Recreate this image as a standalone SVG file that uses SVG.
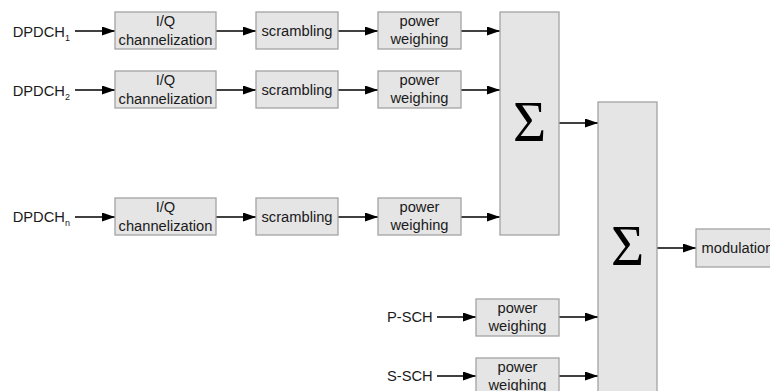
<svg xmlns="http://www.w3.org/2000/svg" width="770" height="391" viewBox="0 0 770 391">
<defs>
<style>
.box{fill:#e5e5e5;stroke:#a3a3a3;stroke-width:1.3}
.t{font-family:"Liberation Sans",Arial,sans-serif;font-size:14.7px;fill:#1a1a1a;text-anchor:middle}
.l{font-family:"Liberation Sans",Arial,sans-serif;font-size:14.7px;fill:#1a1a1a}
.sub{font-size:9px}
.sig{font-family:"Liberation Serif","Times New Roman",serif;font-size:57px;fill:#000;text-anchor:middle}
.c{stroke:#000;stroke-width:1.4;fill:none;marker-end:url(#ah)}
</style>
<marker id="ah" markerUnits="userSpaceOnUse" markerWidth="14" markerHeight="10" refX="13" refY="4.5" orient="auto">
<path d="M0,0 L13,4.5 L0,9 z" fill="#000"/>
</marker>
</defs>
<rect width="770" height="391" fill="#ffffff"/>

<g id="connectors">
<line class="c" x1="75" y1="31" x2="115" y2="31"/>
<line class="c" x1="216" y1="31" x2="256" y2="31"/>
<line class="c" x1="338" y1="31" x2="378" y2="31"/>
<line class="c" x1="461" y1="31" x2="500" y2="31"/>
<line class="c" x1="75" y1="90" x2="115" y2="90"/>
<line class="c" x1="216" y1="90" x2="256" y2="90"/>
<line class="c" x1="338" y1="90" x2="378" y2="90"/>
<line class="c" x1="461" y1="90" x2="500" y2="90"/>
<line class="c" x1="75" y1="217" x2="115" y2="217"/>
<line class="c" x1="216" y1="217" x2="256" y2="217"/>
<line class="c" x1="338" y1="217" x2="378" y2="217"/>
<line class="c" x1="461" y1="217" x2="500" y2="217"/>
<line class="c" x1="559" y1="123" x2="598" y2="123"/>
<line class="c" x1="657" y1="248" x2="696" y2="248"/>
<line class="c" x1="437" y1="317" x2="476" y2="317"/>
<line class="c" x1="559" y1="317" x2="598" y2="317"/>
<line class="c" x1="437" y1="376" x2="476" y2="376"/>
<line class="c" x1="559" y1="376" x2="598" y2="376"/>
</g>

<g id="label-dpdch1"><text class="l" x="12.7" y="37">DPDCH<tspan class="sub" dy="3.5">1</tspan></text></g>
<g id="label-dpdch2"><text class="l" x="12.7" y="96">DPDCH<tspan class="sub" dy="3.5">2</tspan></text></g>
<g id="label-dpdchn"><text class="l" x="12.7" y="222">DPDCH<tspan class="sub" dy="3.5">n</tspan></text></g>
<g id="label-psch"><text class="l" x="387" y="322">P-SCH</text></g>
<g id="label-ssch"><text class="l" x="387" y="381">S-SCH</text></g>

<g id="iq1"><rect class="box" x="115" y="12" width="101" height="37"/><text class="t" x="165.5" y="26">I/Q</text><text class="t" x="165.5" y="44.5">channelization</text></g>
<g id="scr1"><rect class="box" x="256" y="12" width="82" height="37"/><text class="t" x="297" y="35.5">scrambling</text></g>
<g id="pw1"><rect class="box" x="378" y="12" width="83" height="37"/><text class="t" x="419.5" y="26">power</text><text class="t" x="419.5" y="44">weighing</text></g>

<g id="iq2"><rect class="box" x="115" y="71" width="101" height="37"/><text class="t" x="165.5" y="85">I/Q</text><text class="t" x="165.5" y="103.5">channelization</text></g>
<g id="scr2"><rect class="box" x="256" y="71" width="82" height="37"/><text class="t" x="297" y="94.5">scrambling</text></g>
<g id="pw2"><rect class="box" x="378" y="71" width="83" height="37"/><text class="t" x="419.5" y="85">power</text><text class="t" x="419.5" y="103">weighing</text></g>

<g id="iqn"><rect class="box" x="115" y="198" width="101" height="37"/><text class="t" x="165.5" y="212">I/Q</text><text class="t" x="165.5" y="230.5">channelization</text></g>
<g id="scrn"><rect class="box" x="256" y="198" width="82" height="37"/><text class="t" x="297" y="221.5">scrambling</text></g>
<g id="pwn"><rect class="box" x="378" y="198" width="83" height="37"/><text class="t" x="419.5" y="212">power</text><text class="t" x="419.5" y="230">weighing</text></g>

<g id="sum1"><rect class="box" x="500" y="12" width="59" height="223"/><text class="sig" x="529.5" y="141">Σ</text></g>
<g id="sum2"><rect class="box" x="598" y="102" width="59" height="300"/><text class="sig" x="627.5" y="265">Σ</text></g>

<g id="pwp"><rect class="box" x="476" y="299" width="83" height="37"/><text class="t" x="517.5" y="313">power</text><text class="t" x="517.5" y="331">weighing</text></g>
<g id="pws"><rect class="box" x="476" y="358" width="83" height="37"/><text class="t" x="517.5" y="372">power</text><text class="t" x="517.5" y="390">weighing</text></g>

<g id="mod"><rect class="box" x="696" y="229" width="90" height="38"/><text class="l" x="701.5" y="253">modulation</text></g>
</svg>
